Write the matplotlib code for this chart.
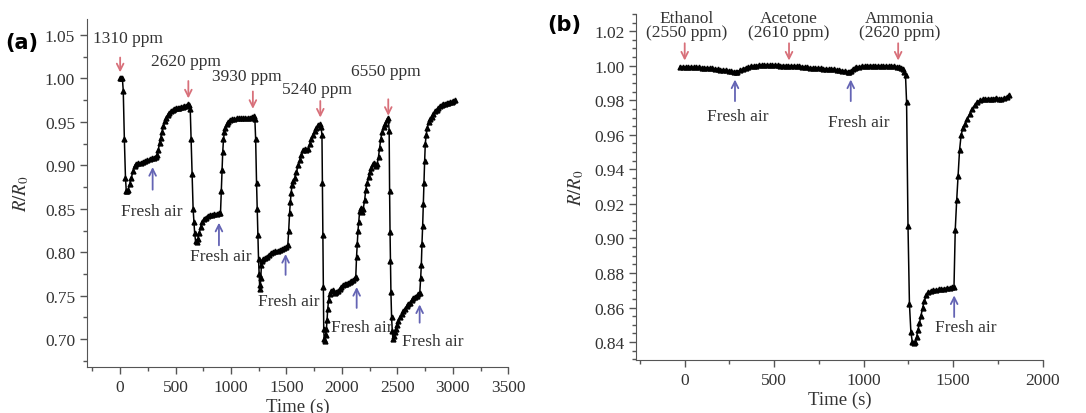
import matplotlib
matplotlib.use("Agg")
import matplotlib.pyplot as plt
from matplotlib.ticker import MultipleLocator, FormatStrFormatter

plt.rcParams['font.family'] = 'serif'
plt.rcParams['font.serif'] = ['Liberation Serif', 'DejaVu Serif']
plt.rcParams['mathtext.fontset'] = 'stix'

# panel (a): response to increasing concentrations
t_a = [0, 10, 20, 28, 38, 48, 55, 62, 72, 85, 100, 115, 130, 145, 165, 185, 205, 225, 245, 265, 285, 305,
       320, 335, 345, 355, 365, 378, 390, 402, 415, 430, 445, 460, 475, 490, 505, 520, 535, 550, 565, 580,
       595, 610, 622, 632,
       640, 650, 658, 665, 672, 680, 690, 700, 712, 725, 740, 755, 770, 790, 810, 830, 850, 870, 890, 905,
       912, 918, 925, 932, 940, 950, 962, 975, 990, 1010, 1030, 1050, 1070, 1090, 1110, 1130, 1150, 1170,
       1190, 1205, 1215,
       1222, 1230, 1236, 1242, 1248, 1254, 1258, 1262, 1268, 1274, 1280, 1290, 1305, 1320, 1340, 1360, 1380,
       1400, 1420, 1440, 1460, 1480, 1500, 1512,
       1520, 1528, 1535, 1542, 1550, 1562, 1575, 1590, 1605, 1620, 1635, 1650, 1665, 1680, 1695, 1710, 1725,
       1740, 1755, 1770, 1785, 1800, 1812,
       1820, 1824, 1828, 1832, 1836, 1840, 1846, 1852, 1860, 1866, 1872, 1880, 1890, 1905, 1920, 1935, 1950,
       1965, 1980, 1995, 2010, 2025, 2040, 2055, 2070, 2085, 2100, 2115, 2125,
       2132, 2138, 2145, 2152, 2160, 2170, 2180, 2192, 2205, 2215, 2228, 2240, 2252, 2265, 2278, 2292, 2305,
       2318, 2330, 2340, 2350, 2362, 2375, 2390, 2405, 2418,
       2426, 2430, 2434, 2438, 2442, 2448, 2454, 2460, 2467, 2475, 2485, 2495, 2510, 2525, 2540, 2555, 2570,
       2585, 2600, 2615, 2630, 2645, 2660, 2675, 2690, 2702,
       2710, 2716, 2722, 2728, 2734, 2740, 2746, 2752, 2760, 2770, 2782, 2795, 2810, 2825, 2840, 2855, 2870,
       2885, 2900, 2915, 2930, 2945, 2960, 2975, 2990, 3005, 3020]
r_a = [1.000, 1.001, 1.000, 0.986, 0.930, 0.886, 0.871, 0.870, 0.872, 0.878, 0.885, 0.893, 0.899, 0.902,
       0.903, 0.903, 0.904, 0.905, 0.906, 0.907, 0.908, 0.909, 0.910, 0.912, 0.918, 0.926, 0.931, 0.938,
       0.945, 0.951, 0.955, 0.958, 0.960, 0.962, 0.964, 0.965, 0.966, 0.966, 0.966, 0.967, 0.967, 0.968,
       0.968, 0.970, 0.969, 0.965,
       0.930, 0.890, 0.850, 0.835, 0.822, 0.813, 0.812, 0.815, 0.822, 0.829, 0.835, 0.838, 0.840, 0.842,
       0.843, 0.843, 0.844, 0.844, 0.845, 0.845,
       0.870, 0.895, 0.915, 0.930, 0.938, 0.943, 0.947, 0.950, 0.952, 0.953, 0.953, 0.954, 0.954, 0.954,
       0.954, 0.955, 0.955, 0.955, 0.956, 0.957, 0.953,
       0.930, 0.880, 0.850, 0.820, 0.792, 0.775, 0.762, 0.758, 0.770, 0.785, 0.790, 0.792, 0.793, 0.795,
       0.797, 0.799, 0.800, 0.801, 0.802, 0.803, 0.804, 0.805, 0.806, 0.808,
       0.825, 0.845, 0.858, 0.868, 0.877, 0.882, 0.886, 0.892, 0.900, 0.906, 0.912, 0.918, 0.919, 0.918,
       0.919, 0.925, 0.930, 0.935, 0.940, 0.943, 0.946, 0.947, 0.944,
       0.935, 0.880, 0.820, 0.760, 0.712, 0.700, 0.698, 0.705, 0.712, 0.722, 0.735, 0.745, 0.752, 0.756,
       0.757, 0.753, 0.754, 0.756, 0.758, 0.760, 0.762, 0.763, 0.764, 0.765, 0.766, 0.767, 0.768, 0.770,
       0.772,
       0.795, 0.810, 0.825, 0.835, 0.848, 0.851, 0.846, 0.850, 0.860, 0.872, 0.880, 0.887, 0.892, 0.897,
       0.901, 0.903, 0.899, 0.902, 0.910, 0.920, 0.930, 0.938, 0.944, 0.948, 0.952, 0.954,
       0.940, 0.870, 0.823, 0.790, 0.754, 0.725, 0.710, 0.700, 0.704, 0.708, 0.712, 0.716, 0.721, 0.726,
       0.729, 0.732, 0.735, 0.738, 0.740, 0.742, 0.745, 0.747, 0.749, 0.750, 0.752, 0.753,
       0.770, 0.785, 0.810, 0.830, 0.855, 0.880, 0.905, 0.925, 0.935, 0.943, 0.950, 0.953, 0.956, 0.959,
       0.962, 0.964, 0.966, 0.968, 0.969, 0.970, 0.971, 0.972, 0.972, 0.973, 0.973, 0.974, 0.975]

# panel (b): selectivity to different gases
t_b = [-25, -10, 5, 20, 35, 50, 65, 80, 95, 110, 125, 140, 155, 170, 185, 200, 215, 230, 245, 260, 275,
       285, 295, 310, 325, 340, 355, 370, 385, 400, 415, 430, 445, 460, 475, 490, 505, 520, 535, 550, 565,
       580, 595, 610, 625, 640, 655, 670, 685, 700, 715, 730, 745, 760, 775, 790, 805, 820, 835, 850, 865,
       880, 895, 910, 920, 930, 940, 950, 960, 975, 990, 1005, 1020, 1035, 1050, 1065, 1080, 1095, 1110,
       1125, 1140, 1155, 1170, 1185, 1198, 1210, 1220, 1228, 1234,
       1240, 1248, 1256, 1264, 1272, 1280, 1288, 1296, 1304, 1312, 1320, 1330, 1340, 1350, 1362, 1375,
       1390, 1405, 1420, 1435, 1450, 1465, 1480, 1495, 1505,
       1512, 1520, 1528, 1536, 1545, 1555, 1565, 1578, 1592, 1606, 1620, 1635, 1650, 1665, 1680, 1695,
       1710, 1725, 1740, 1755, 1770, 1785, 1800, 1812]
r_b = [0.9995, 0.9994, 0.9993, 0.9993, 0.9992, 0.9991, 0.9991, 0.9990, 0.9989, 0.9989, 0.9988, 0.9986,
       0.9984, 0.9982, 0.9980, 0.9978, 0.9976, 0.9974, 0.9972, 0.9970, 0.9966, 0.9962, 0.9966, 0.9974,
       0.9982, 0.9988, 0.9992, 0.9996, 0.9999, 1.0001, 1.0003, 1.0004, 1.0004, 1.0003, 1.0002, 1.0002,
       1.0003, 1.0002, 1.0001, 1.0001, 1.0001, 1.0000, 1.0000, 1.0000, 0.9999, 0.9997, 0.9995, 0.9993,
       0.9991, 0.9989, 0.9988, 0.9987, 0.9986, 0.9985, 0.9983, 0.9982, 0.9981, 0.9980, 0.9979, 0.9977,
       0.9975, 0.9972, 0.9969, 0.9966, 0.9965, 0.9972, 0.9980, 0.9986, 0.9991, 0.9994, 0.9996, 0.9998,
       1.0000, 1.0001, 1.0001, 1.0000, 1.0000, 1.0000, 1.0000, 0.9999, 0.9999, 0.9998, 0.9997, 0.9995,
       0.9993, 0.9988, 0.9980, 0.9965, 0.9945,
       0.979, 0.907, 0.862, 0.846, 0.840, 0.8395, 0.840, 0.843, 0.847, 0.851, 0.855, 0.860, 0.864, 0.867,
       0.869, 0.8695, 0.870, 0.8702, 0.8705, 0.8708, 0.871, 0.8712, 0.8715, 0.8718, 0.872,
       0.905, 0.922, 0.936, 0.951, 0.960, 0.964, 0.966, 0.969, 0.972, 0.975, 0.977, 0.979, 0.980, 0.9805,
       0.9805, 0.981, 0.981, 0.981, 0.9815, 0.981, 0.9808, 0.9812, 0.982, 0.983]

# annotations
gas_a = ['1310 ppm', '2620 ppm', '3930 ppm', '5240 ppm', '6550 ppm']
gas_a_xy = [(66, 1.046), (595, 1.020), (1146, 1.003), (1775, 0.988), (2400, 1.009)]
gas_a_arrow = [(0, 1.024, 1.007), (615, 0.997, 0.977), (1197, 0.985, 0.965), (1805, 0.974, 0.955),
               (2418, 0.976, 0.957)]
air_a_arrow = [(293, 0.872, 0.898), (891, 0.808, 0.834), (1492, 0.774, 0.798), (2133, 0.736, 0.760),
               (2701, 0.719, 0.740)]
air_a_text = [(281, 0.847), (911, 0.796), (1521, 0.744), (2179, 0.714), (2820, 0.698)]

gas_b = ['Ethanol\n(2550 ppm)', 'Acetone\n(2610 ppm)', 'Ammonia\n(2620 ppm)']
gas_b_xy = [(10, 1.0235), (583, 1.0235), (1199, 1.0235)]
gas_b_arrow = [(0, 1.0130, 1.0030), (583, 1.0130, 1.0030), (1193, 1.0130, 1.0030)]
air_b_arrow = [(281, 0.9795, 0.9920), (928, 0.9795, 0.9920), (1506, 0.8545, 0.8670)]
air_b_text = [(294, 0.9708), (975, 0.9673), (1571, 0.8487)]

red = '#d8707a'
blue = '#6464b4'
fs = 12.5

fig = plt.figure(figsize=(10.86, 4.14), dpi=100)
ax1 = fig.add_axes([0.080, 0.111, 0.388, 0.840])
ax2 = fig.add_axes([0.586, 0.128, 0.374, 0.836])


def style(ax):
    ax.spines['top'].set_visible(False)
    ax.spines['right'].set_visible(False)
    for s in ['left', 'bottom']:
        ax.spines[s].set_color('#555555')
    ax.tick_params(which='major', direction='out', length=5, width=1, colors='#555555',
                   labelcolor='#333333', labelsize=fs)
    ax.tick_params(which='minor', direction='out', length=3, width=1, colors='#555555')


def arrow(ax, x, y0, y1, color):
    ax.annotate('', xy=(x, y1), xytext=(x, y0),
                arrowprops=dict(arrowstyle='->', color=color, lw=1.3, shrinkA=0, shrinkB=0,
                                mutation_scale=12))


ax1.plot(t_a, r_a, color='black', lw=1.1, marker='^', markersize=3.5)
ax1.set_xlim(-300, 3500)
ax1.set_ylim(0.668, 1.068)
ax1.xaxis.set_major_locator(MultipleLocator(500))
ax1.xaxis.set_minor_locator(MultipleLocator(250))
ax1.yaxis.set_major_locator(MultipleLocator(0.05))
ax1.yaxis.set_minor_locator(MultipleLocator(0.025))
ax1.yaxis.set_major_formatter(FormatStrFormatter('%.2f'))
style(ax1)
ax1.set_xlabel('Time (s)', fontsize=fs + 1, color='#333333', labelpad=2)
ax1.set_ylabel('$R/R_0$', fontsize=fs + 1, color='#333333', labelpad=10)

for lbl, (x, y) in zip(gas_a, gas_a_xy):
    ax1.text(x, y, lbl, ha='center', va='center', fontsize=fs, color='#333333')
for x, y0, y1 in gas_a_arrow:
    arrow(ax1, x, y0, y1, red)
for x, y0, y1 in air_a_arrow:
    arrow(ax1, x, y0, y1, blue)
for x, y in air_a_text:
    ax1.text(x, y, 'Fresh air', ha='center', va='center', fontsize=fs, color='#333333')

ax2.plot(t_b, r_b, color='black', lw=1.1, marker='^', markersize=3.5)
ax2.set_xlim(-270, 2000)
ax2.set_ylim(0.8296, 1.030)
ax2.xaxis.set_major_locator(MultipleLocator(500))
ax2.xaxis.set_minor_locator(MultipleLocator(250))
ax2.yaxis.set_major_locator(MultipleLocator(0.02))
ax2.yaxis.set_minor_locator(MultipleLocator(0.005))
ax2.yaxis.set_major_formatter(FormatStrFormatter('%.2f'))
style(ax2)
ax2.set_xlabel('Time (s)', fontsize=fs + 1, color='#333333', labelpad=2)
ax2.set_ylabel('$R/R_0$', fontsize=fs + 1, color='#333333', labelpad=6)

for lbl, (x, y) in zip(gas_b, gas_b_xy):
    ax2.text(x, y, lbl, ha='center', va='center', fontsize=fs, color='#333333', linespacing=0.85)
for x, y0, y1 in gas_b_arrow:
    arrow(ax2, x, y0, y1, red)
for x, y0, y1 in air_b_arrow:
    arrow(ax2, x, y0, y1, blue)
for x, y in air_b_text:
    ax2.text(x, y, 'Fresh air', ha='center', va='center', fontsize=fs, color='#333333')

fig.text(0.005, 0.896, '(a)', fontsize=15, fontweight='bold', family='DejaVu Sans', va='center')
fig.text(0.504, 0.94, '(b)', fontsize=15, fontweight='bold', family='DejaVu Sans', va='center')

fig.savefig('out.png', dpi=100)
